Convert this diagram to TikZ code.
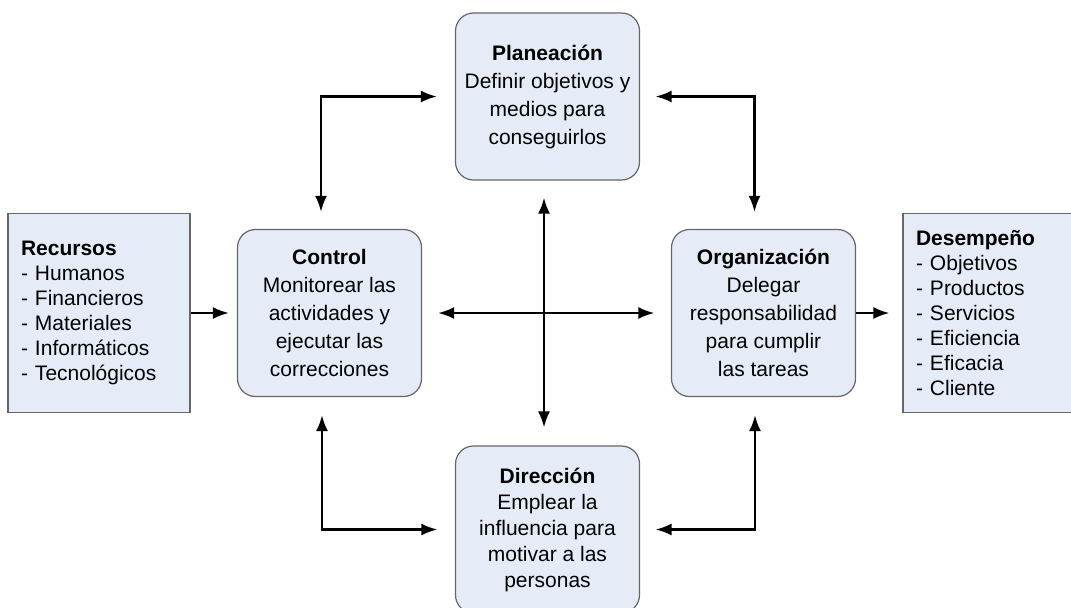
\documentclass[tikz,border=0pt]{standalone}
\usepackage{fontspec}
\setmainfont{Liberation Sans}
\usepackage{xcolor}
\usepackage{tikz}
\usetikzlibrary{arrows.meta, positioning}
\definecolor{boxfill}{RGB}{230,236,247}
\tikzset{
    stagenode/.style = {draw=black!60, fill=boxfill, rectangle, rounded corners=9pt, line width=0.6pt,
      minimum width=92pt, minimum height=83.5pt, inner sep=0pt, node distance=0em,
      font=\fontsize{10.5}{14}\selectfont, align=center},
    listnode/.style = {draw=black!60, fill=boxfill, rectangle, line width=0.6pt, text width=78pt,
      inner sep=6.5pt, minimum height=99.5pt, node distance=0em,
      font=\fontsize{10.5}{12.5}\selectfont, align=left},
    connect/.style = {black, line width=1.15pt, ->},
    link/.style = {black, line width=1.15pt, <->},
    >={Latex[length=8pt,width=6pt]}
}

\begin{document}
\begin{tikzpicture}
    \useasboundingbox (0,0) rectangle (535.5pt,-303.5pt);
    \clip (0,0) rectangle (535.5pt,-303.5pt);
    \coordinate (hub) at (272pt,-156.5pt);

    \node [name=plan, stagenode, above of = hub, xshift=1.75pt, yshift=108.25pt]
        {\textbf{Planeación}\\Definir objetivos y\\medios para\\conseguirlos};
    \node [name=ctrl, stagenode, left of = hub, xshift=-107.25pt]
        {\textbf{Control}\\Monitorear las\\actividades y\\ejecutar las\\correcciones};
    \node [name=org, stagenode, right of = hub, xshift=109.75pt]
        {\textbf{Organización}\\Delegar\\responsabilidad\\para cumplir\\las tareas};
    \node [name=dir, stagenode, below of = hub, xshift=1.75pt, yshift=-108.25pt,
        font=\fontsize{10.5}{13}\selectfont]
        {\textbf{Dirección}\\Emplear la\\influencia para\\motivar a las\\personas};

    \node [name=rec, listnode, left of = hub, xshift=-222.5pt]
        {\textbf{Recursos}\\- Humanos\\- Financieros\\- Materiales\\- Informáticos\\- Tecnológicos};
    \node [name=des, listnode, right of = hub, xshift=225pt]
        {\textbf{Desempeño}\\- Objetivos\\- Productos\\- Servicios\\- Eficiencia\\- Eficacia\\- Cliente};

    \draw [connect] (rec.east) -- ([xshift=-4pt]ctrl.west);
    \draw [connect] (org.east) -- ([xshift=-6.5pt]des.west);

    \draw [link] ([xshift=-4.25pt, yshift=8.5pt]ctrl.north) |- ([xshift=-9pt]plan.west);
    \draw [link] ([xshift=7.75pt]plan.east) -| ([xshift=-4.5pt, yshift=8.5pt]org.north);
    \draw [link] ([xshift=-3.75pt, yshift=-9pt]ctrl.south) |- ([xshift=-8.75pt]dir.west);
    \draw [link] ([xshift=-4.25pt, yshift=-9pt]org.south) |- ([xshift=7.75pt]dir.east);

    \draw [link] ([yshift=-8.5pt]plan.south -| hub) -- ([yshift=9pt]dir.north -| hub);
    \draw [link] ([xshift=8pt]ctrl.east |- hub) -- ([xshift=-8.25pt]org.west |- hub);
\end{tikzpicture}
\end{document}
